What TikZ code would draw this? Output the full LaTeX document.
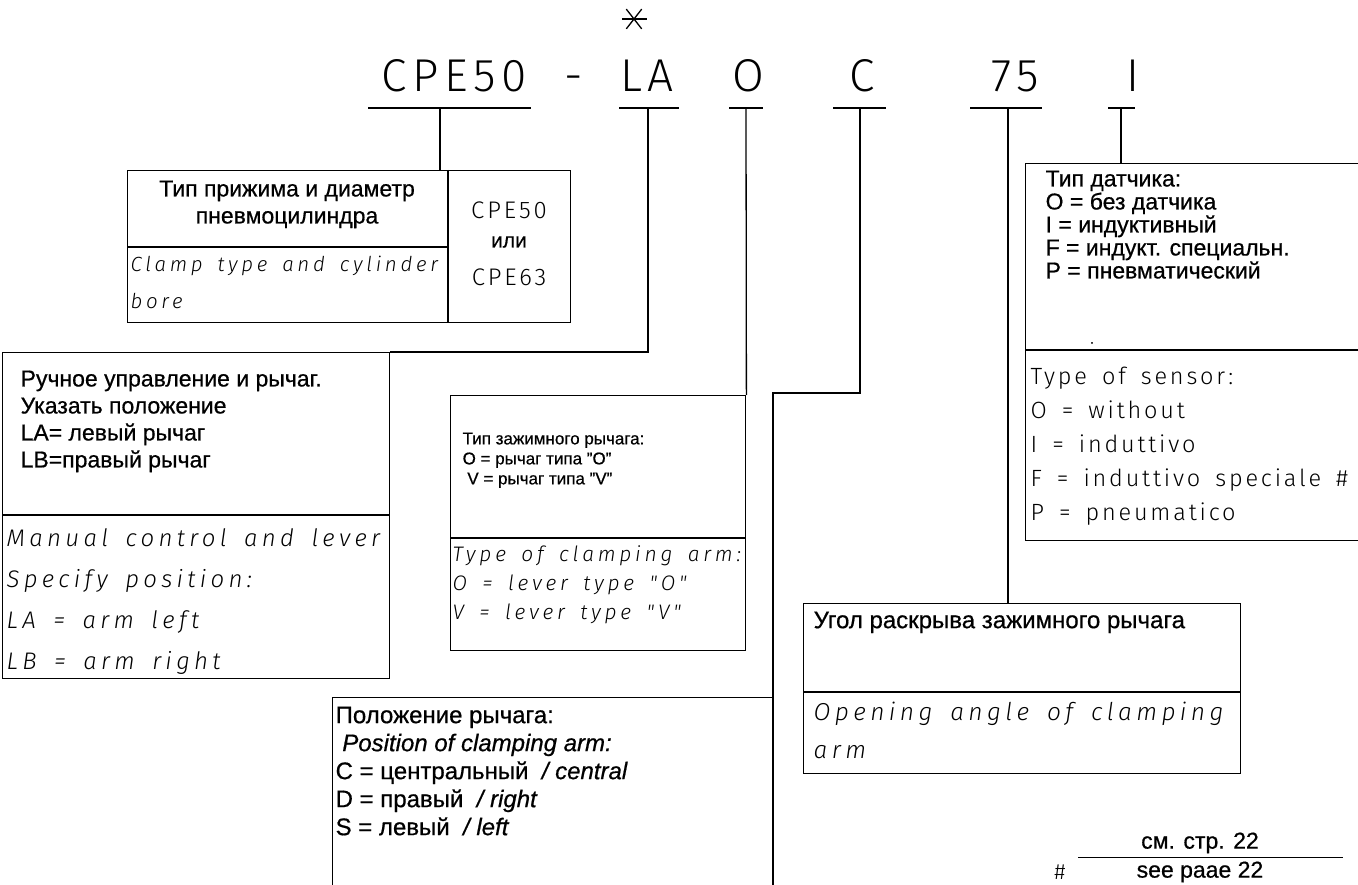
\documentclass[tikz,border=0pt]{standalone}
\usepackage{fontspec}
\setmainfont{Liberation Sans}[FakeBold=0.6]
\newfontfamily\isofont{Fira Sans Light}[LetterSpace=12,WordSpace=1.6]
\newfontfamily\isoit{Fira Sans Light Italic}[LetterSpace=18,WordSpace=1.6]
\usetikzlibrary{calc}
\newcommand{\sz}[2]{\fontsize{#1}{#2}\selectfont}
\tikzstyle{codepart} = [
    inner sep=0pt,
    anchor=base,
    font=\isofont\sz{46}{50}
    ]
\tikzstyle{codebar} = [line width=1.8pt]
\tikzstyle{partbox} = [
    draw,
    rectangle,
    line width=1.4pt,
    inner sep=0pt,
    anchor=north west
    ]
\tikzstyle{rutext} = [inner sep=0pt, anchor=north west, align=left]
\tikzstyle{isotext} = [inner sep=0pt, anchor=north west, align=left]

\begin{document}
\begin{tikzpicture}[x=1pt,y=-1pt,line width=1.3pt]
\useasboundingbox[fill=white] (0,0) rectangle (1358,885);

% code
\node[codepart] (cpe) at (454,92) {CPE50};
\node[codepart] (dash) at (574,92) {-};
\node[codepart] (la) at (647,92) {LA};
\node[codepart] (o) at (748,92) {O};
\node[codepart] (c) at (862,92) {C};
\node[codepart] (ang) at (1015,92) {75};
\node[codepart] (sens) at (1133,92) {I};
\coordinate (star) at (634,19);
\foreach \a in {0,52,128}
    \draw (star) ++(\a:12.5) -- ++(\a+180:25);
\foreach \n/\l/\r/\s in {cpe/368/531/440, la/619/679/648, o/729/763/746,
    c/833/886/860, ang/970/1042/1008, sens/1108/1135/1121}{
    \draw[codebar] (\l,108) -- (\r,108);
    \coordinate (\n-stem) at (\s,108);
}

% boxes
\node[partbox, minimum width=443, minimum height=152] (clampbox) at (127,170) {};
\node[partbox, minimum width=387, minimum height=326] (manualbox) at (2,352) {};
\node[partbox, minimum width=295, minimum height=255] (armbox) at (450,395) {};
\node[partbox, minimum width=345, minimum height=377] (sensorbox) at (1025,163) {};
\node[partbox, minimum width=437, minimum height=170] (anglebox) at (803,603) {};
\node[partbox, minimum width=441, minimum height=220] (posbox) at (332,697) {};
\draw ([xshift=321pt]clampbox.north west) -- ([xshift=321pt]clampbox.south west);
\draw ([yshift=-77pt]clampbox.north west) -- ([yshift=-77pt,xshift=321pt]clampbox.north west);
\draw ([yshift=-163pt]manualbox.north west) -- ([yshift=-163pt]manualbox.north east);
\draw ([yshift=-143pt]armbox.north west) -- ([yshift=-143pt]armbox.north east);
\draw ([yshift=-187pt]sensorbox.north west) -- ([yshift=-187pt]sensorbox.north east);
\draw ([yshift=-89pt]anglebox.north west) -- ([yshift=-89pt]anglebox.north east);

% connectors
\coordinate (cbend) at (773,393);
\draw (cpe-stem) -- (cpe-stem |- clampbox.north);
\draw (la-stem) |- (manualbox.north east);
\draw (o-stem) -- (armbox.north east);
\draw (c-stem) |- (cbend) -- (cbend |- posbox.south);
\draw (ang-stem) -- (ang-stem |- anglebox.north);
\draw (sens-stem) -- (sens-stem |- sensorbox.north);

% texts
\node[rutext, anchor=north, align=center, font=\sz{23}{27}] (clampru) at (287,180)
    {Тип прижима и диаметр\\пневмоцилиндра};
\node[isotext, font=\isoit\sz{20.5}{37}] (clampen) at (130,255)
    {Clamp type and cylinder\\bore};
\node[anchor=center, font=\isofont\sz{24}{28}] (cpe50) at (509,210) {CPE50};
\node[anchor=center, font=\sz{21}{24}] (ili) at (509,242) {или};
\node[anchor=center, font=\isofont\sz{24}{28}] (cpe63) at (509,277) {CPE63};

\node[rutext, font=\sz{23}{27}] (manualru) at (20,370)
    {Ручное управление и рычаг.\\Указать положение\\LA= левый рычаг\\LB=правый рычаг};
\node[isotext, font=\isoit\sz{24}{41}] (manualen) at (6,528)
    {Manual control and lever\\Specify position:\\LA = arm left\\LB = arm right};

\node[rutext, font=\sz{17}{20}] (armru) at (462,432)
    {Тип зажимного рычага:\\O = рычаг типа "O"\\\ V = рычаг типа "V"};
\node[isotext, font=\isoit\sz{21}{29}] (armen) at (452,545)
    {Type of clamping arm:\\O = lever type "O"\\V = lever type "V"};

\node[rutext, font=\sz{23}{23}] (sensorru) at (1045,170)
    {Тип датчика:\\O = без датчика\\I = индуктивный\\F = индукт. специальн.\\P = пневматический};
\node[font=\sz{14}{14}] (dot) at (1092,343) {.};
\node[isotext, font=\isofont\sz{23.5}{34}] (sensoren) at (1030,366)
    {Type of sensor:\\O = without\\I = induttivo\\F = induttivo speciale \#\\P = pneumatico};

\node[rutext, font=\sz{24}{28}] (angleru) at (813,611) {Угол раскрыва зажимного рычага};
\node[isotext, font=\isoit\sz{24.5}{38}] (angleen) at (813,701)
    {Opening angle of clamping\\arm};

\node[rutext, font=\sz{24}{28}] (posru) at (335,706)
    {Положение рычага:\\\ \textit{Position of clamping arm:}\\C = центральный \ \textit{/ central}\\D = правый \ \textit{/ right}\\S = левый \ \textit{/ left}};

\node[font=\sz{23}{26}] (seeru) at (1200,843) {см. стр. 22};
\node[font=\sz{23}{26}] (seeen) at (1200,872) {see paae 22};
\node[font=\isofont\sz{22}{24}] (hash) at (1060,872) {\#};
\draw (seeen.north -| 1078,0) -- (seeen.north -| 1343,0);
\end{tikzpicture}
\end{document}
